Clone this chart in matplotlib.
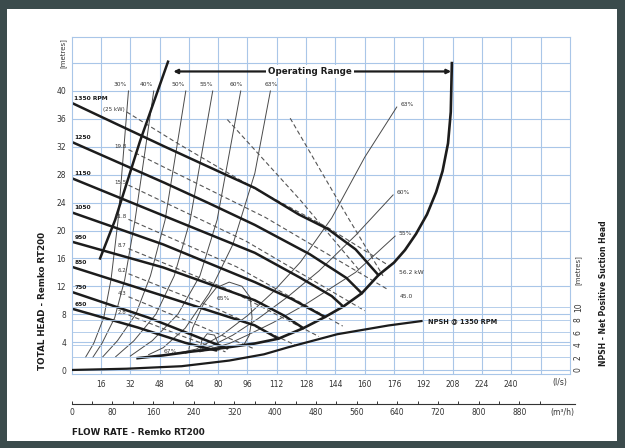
import matplotlib.pyplot as plt
from matplotlib.patches import Rectangle

# --- values (flow in l/s, head in m) ---
flow_ticks = list(range(16, 257, 16))
flow_labels = [str(v) for v in range(16, 241, 16)] + [""]
head_ticks = list(range(0, 45, 4))
head_labels = [str(v) for v in range(0, 41, 4)] + [""]
npsh_ticks = [0, 2, 4, 6, 8, 10]
m3h_ticks = list(range(0, 881, 80))
m3h_minor = list(range(40, 961, 80))

# pump speed curves
rpm_labels = ["1350 RPM", "1250", "1150", "1050", "950", "850", "750", "650"]
q_1350 = [0, 25, 51, 75, 100, 124, 140, 155, 167.5]
h_1350 = [38.3, 35.2, 32.0, 29.1, 26.1, 22.3, 20.2, 17.3, 13.6]
q_1250 = [0, 51, 75, 100, 130, 150, 158.4]
h_1250 = [32.7, 26.8, 23.9, 20.8, 16.6, 13.2, 11.0]
q_1150 = [0, 56, 100, 125, 142, 148.3]
h_1150 = [27.5, 21.5, 16.8, 13.2, 10.6, 9.1]
q_1050 = [0, 50, 100, 120, 138.3]
h_1050 = [22.6, 18.0, 12.6, 10.2, 7.6]
q_950 = [0, 50, 100, 116, 126.5]
h_950 = [18.4, 14.7, 10.0, 7.8, 6.0]
q_850 = [0, 54, 100, 112.8]
h_850 = [14.8, 10.3, 6.4, 4.5]
q_750 = [0, 42, 70, 85]
h_750 = [11.2, 7.5, 4.6, 3.1]
q_650 = [0, 36, 62, 79]
h_650 = [8.8, 6.1, 3.9, 2.8]

# power (kW) dashed lines, one per speed
kw_labels = ["(25 kW)", "19.8", "15.5", "11.8", "8.7", "6.2", "4.3", "2.8"]
kw_q = [[30, 56.5, 100, 140, 173], [31, 105.6, 172.9], [31, 95, 160],
        [31, 90, 148], [31, 85, 135], [31, 80, 122], [31, 70, 100], [31, 60, 84]]
kw_h = [[37.0, 32.7, 26.0, 20.4, 15.0], [31.6, 21.9, 11.5], [26.5, 18.5, 8.5],
        [21.6, 14.8, 6.3], [17.4, 11.6, 4.8], [13.8, 8.7, 3.6], [10.5, 6.3, 3.0], [7.9, 4.9, 2.6]]
kw_end_labels = ["56.2 kW", "45.0"]
# two long dashed lines from the top
long_q = [[85, 124.7, 158], [119.3, 151, 170]]
long_h = [[35.9, 24.4, 14.0], [36.1, 21.8, 13.5]]

# operating range limits
q_left = [52.6, 37.3, 23.7, 15.5]
h_left = [44.2, 32.8, 21.5, 16.0]
q_bound = [36, 50, 64, 84, 100, 113, 126.5, 138.3, 148.3, 158.4, 167.5, 176, 182,
           188, 194, 199, 202.5, 205.5, 207, 207.6]
h_bound = [1.7, 2.1, 2.6, 3.2, 3.8, 4.5, 6.0, 7.6, 9.1, 11.0, 13.6, 15.4, 17.2,
           19.5, 22.3, 25.5, 28.5, 32.5, 37.0, 44.0]

# efficiency lines
eff_names = ["30%", "40%", "50%", "55%", "60%", "63%"]
eff_label_q = [26.4, 41, 58, 73.7, 90, 109.2]
effl_q = [[31.0, 25.3, 21.5, 17.5, 12, 7.5],
          [44.8, 34.6, 29, 23.5, 16.5, 11.5],
          [62.3, 51, 43, 35, 25, 17],
          [77, 64.7, 56, 46, 34, 24],
          [92.3, 79.4, 70, 58, 44, 32],
          [108.5, 100, 88, 75, 62, 50, 42]]
effl_h = [[40.0, 21.4, 13, 7.5, 3.8, 1.8],
          [40.0, 21.5, 13, 7.5, 3.8, 1.8],
          [40.0, 21.5, 13.5, 8, 4.2, 1.9],
          [40.0, 21.5, 13.5, 8, 4.2, 1.9],
          [40.0, 21.5, 13.5, 8, 4.2, 2.0],
          [40.0, 28.2, 18, 11, 6, 3.2, 2.2]]
effr_names = ["63%", "60%", "55%"]
effr_q = [[177.5, 160, 142, 125, 110, 96, 82, 68, 56],
          [175.5, 155, 135, 118, 102, 88, 76, 62],
          [176.6, 155, 127, 110, 96, 86, 70]]
effr_h = [[37.7, 30.5, 21.8, 15.5, 11.2, 7.8, 5.0, 3.0, 2.3],
          [25.1, 19.3, 14.2, 10.5, 7.4, 5.0, 3.4, 2.4],
          [19.2, 14.0, 9.3, 6.8, 5.0, 3.8, 2.6]]
q_65 = [64, 66, 72, 79, 86, 93, 97.5, 98.5, 97, 94]
h_65 = [3.0, 6.0, 9.5, 11.8, 12.6, 12.0, 10.4, 7.5, 5.0, 3.6]
q_67 = [70, 71, 74, 78, 80, 80]
h_67 = [2.8, 4.2, 5.2, 5.0, 3.8, 2.8]

# NPSH curve (right axis)
q_npsh = [0, 30, 60, 86, 105, 118, 145, 173, 191]
npsh = [0, 0.2, 0.6, 1.5, 2.5, 3.6, 5.7, 7.1, 7.8]

INK = "#1c1c1c"
GRID = "#a9c6e8"

fig = plt.figure(figsize=(6.25, 4.48), dpi=100)
fig.patch.set_facecolor("#3b4b4c")
fig.patches.append(Rectangle((7 / 625, 7 / 448), 610 / 625, 432 / 448, transform=fig.transFigure,
                             facecolor="white", edgecolor="none", zorder=-5))

ax = fig.add_axes([0.1147, 0.1652, 0.797, 0.7522])
ax.set_facecolor("white")
ax.set_xlim(0, 272)
ax.set_ylim(-0.57, 47.74)
ax.set_xticks(flow_ticks)
ax.set_xticklabels(flow_labels)
ax.set_yticks(head_ticks)
ax.set_yticklabels(head_labels)
ax.tick_params(length=0, labelsize=5.5, colors="#333333")
ax.tick_params(axis="x", pad=4)
ax.tick_params(axis="y", pad=4)
ax.grid(color=GRID, lw=0.8)
ax.set_axisbelow(True)
for s in ax.spines.values():
    s.set_color(GRID)
    s.set_linewidth(0.8)

# NPSH axis
ax2 = ax.twinx()
ax2.set_ylim(-0.64, 53.1)
ax2.set_yticks(npsh_ticks)
ax2.set_yticklabels([str(v) for v in npsh_ticks], rotation=90, va="center")
ax2.tick_params(length=0, labelsize=5.5, colors="#333333", pad=3)
for s in ax2.spines.values():
    s.set_visible(False)
for v in npsh_ticks[1:]:
    ax2.axhline(v, color=GRID, lw=0.6, zorder=0)

# efficiency lines
for q, h in zip(effl_q, effl_h):
    ax.plot(q, h, color="#4a4a4a", lw=0.7)
for name, x in zip(eff_names, eff_label_q):
    ax.text(x, 40.9, name, fontsize=4.3, ha="center", va="center", color="#333333")
for name, q, h in zip(effr_names, effr_q, effr_h):
    ax.plot(q, h, color="#4a4a4a", lw=0.7)
    ax.text(q[0] + 2, h[0] + 0.3, name, fontsize=4.3, va="center", color="#333333")
ax.plot(q_65, h_65, color="#4a4a4a", lw=0.7)
ax.plot(q_67, h_67, color="#4a4a4a", lw=0.7)
ax.text(83, 10.2, "65%", fontsize=4.3, ha="center", va="center", color="#333333")
ax.text(53.7, 2.7, "67%", fontsize=4.3, ha="center", va="center", color="#333333")

# power dashed lines
for q, h in zip(kw_q, kw_h):
    ax.plot(q, h, color="#555555", lw=0.8, dashes=(4, 2.5))
for q, h in zip(long_q, long_h):
    ax.plot(q, h, color="#555555", lw=0.8, dashes=(4, 2.5))
for i, lab in enumerate(kw_labels):
    ax.text(kw_q[i][0] - 1, kw_h[i][0] + 0.4, lab, fontsize=4, ha="right", va="center",
            color="#333333")
for i, lab in enumerate(kw_end_labels):
    ax.text(kw_q[i][-1] + 6, kw_h[i][-1] - 1.0, lab, fontsize=4.3, va="center", color="#333333")

# speed curves
speed_q = [q_1350, q_1250, q_1150, q_1050, q_950, q_850, q_750, q_650]
speed_h = [h_1350, h_1250, h_1150, h_1050, h_950, h_850, h_750, h_650]
for lab, q, h in zip(rpm_labels, speed_q, speed_h):
    ax.plot(q, h, color=INK, lw=1.8, solid_capstyle="round")
    ax.text(1.5, h[0] + 0.3, lab, fontsize=4.3, fontweight="bold", va="bottom", color=INK)

# operating range
ax.plot(q_left, h_left, color=INK, lw=1.8)
ax.plot(q_bound, h_bound, color=INK, lw=1.9)
ax.annotate("", xy=(207.2, 42.8), xytext=(55.5, 42.8),
            arrowprops=dict(arrowstyle="<|-|>", lw=1.6, color=INK, mutation_scale=6,
                            shrinkA=0, shrinkB=0))
ax.text(130.3, 42.8, "Operating Range", fontsize=6.3, fontweight="bold", ha="center",
        va="center", color=INK, bbox=dict(fc="white", ec="none", pad=1.5), zorder=5)

# NPSH curve
ax2.plot(q_npsh, npsh, color=INK, lw=1.6)
ax2.text(194.5, npsh[-1], "NPSH @ 1350 RPM", fontsize=4.8, fontweight="bold", va="center",
         color=INK)

# second flow scale (m3/h)
axm = fig.add_axes([0.1147, 1 - 404 / 448, 0.805, 0.0001])
axm.set_xlim(0, 272 * 3.6 * 0.805 / 0.797)
axm.set_yticks([])
for k in ["top", "left", "right"]:
    axm.spines[k].set_visible(False)
axm.spines["bottom"].set_color("#333333")
axm.spines["bottom"].set_linewidth(0.8)
axm.set_xticks(m3h_ticks)
axm.set_xticks(m3h_minor, minor=True)
axm.tick_params(axis="x", which="both", direction="in", length=2.5, width=0.7,
                labelsize=5.5, colors="#333333", pad=3)

# axis titles
fig.text(560 / 625, 1 - 382 / 448, "(l/s)", fontsize=5.5, ha="center", va="center", color="#333333")
fig.text(562 / 625, 1 - 412 / 448, "(m³/h)", fontsize=5.5, ha="center", va="center", color="#333333")
fig.text(72 / 625, 1 - 432 / 448, "FLOW RATE - Remko RT200", fontsize=6.3, fontweight="bold",
         va="center", color=INK)
fig.text(43 / 625, 1 - 301 / 448, "TOTAL HEAD - Remko RT200", fontsize=6.3, fontweight="bold",
         rotation=90, ha="center", va="center", color=INK)
fig.text(63 / 625, 1 - 53 / 448, "[metres]", fontsize=5, rotation=90, ha="center", va="center",
         color="#333333")
fig.text(603 / 625, 1 - 293 / 448, "NPSH - Net Positive Suction Head", fontsize=5.5,
         fontweight="bold", rotation=90, ha="center", va="center", color=INK)
fig.text(578 / 625, 1 - 270 / 448, "[metres]", fontsize=5, rotation=90, ha="center", va="center",
         color="#333333")

fig.savefig("out.png", dpi=100, facecolor=fig.get_facecolor())
